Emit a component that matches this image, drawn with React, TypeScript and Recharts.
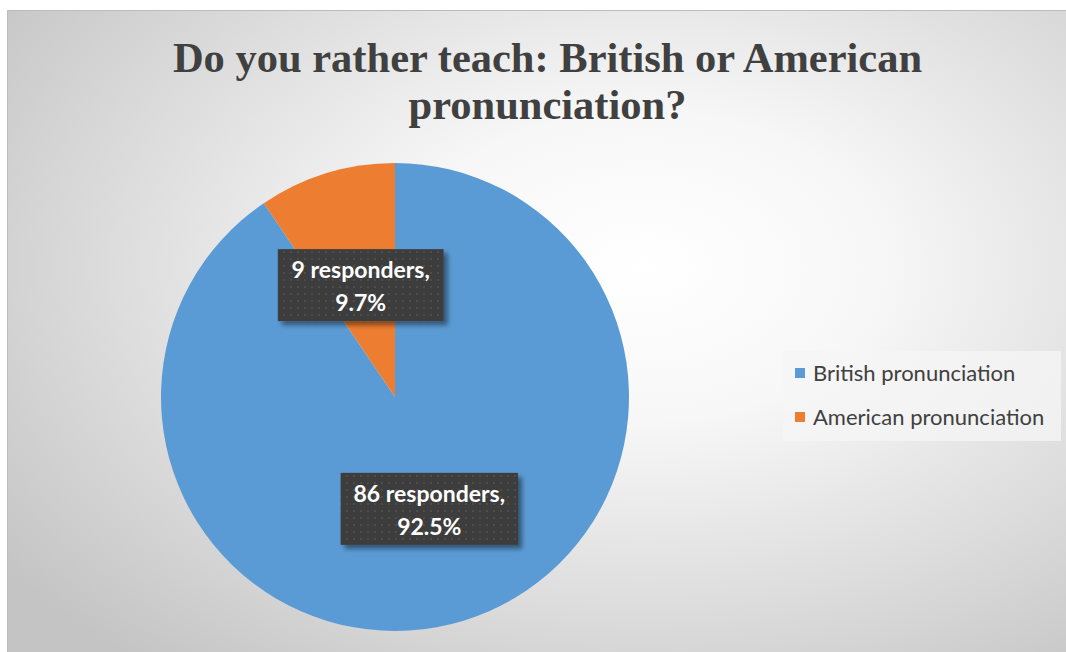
import React from 'react'
import { PieChart, Pie, Cell, Legend } from 'recharts'

// survey answers
const categories = ['British pronunciation', 'American pronunciation']
const responders = [86, 9]
const shownPercent = ['92.5%', '9.7%']
const titleLines = ['Do you rather teach: British or American', 'pronunciation?']

const COLORS = ['#5B9BD5', '#ED7D31']
const W = 1059
const H = 642

const data = categories.map((name, i) => ({
  name,
  value: responders[i],
  pct: shownPercent[i]
}))

const RADIAN = Math.PI / 180

function DataLabel(props: any) {
  const { cx, cy, midAngle, outerRadius, index } = props
  const r = outerRadius * 0.5
  const x = cx + r * Math.cos(-midAngle * RADIAN)
  const y = cy + r * Math.sin(-midAngle * RADIAN)
  const d = data[index]
  const line1 = `${d.value} responders,`
  const w = line1.length * 11.6 + 15
  const h = 72
  return (
    <g>
      <rect
        x={x - w / 2}
        y={y - h / 2}
        width={w}
        height={h}
        fill="url(#dots)"
        filter="url(#lblShadow)"
      />
      <text
        x={x}
        y={y - 16}
        textAnchor="middle"
        dominantBaseline="central"
        fill="#ffffff"
        fontFamily="Lato, 'Open Sans', sans-serif"
        fontWeight="bold"
        fontSize={23}
      >
        {line1}
      </text>
      <text
        x={x}
        y={y + 17}
        textAnchor="middle"
        dominantBaseline="central"
        fill="#ffffff"
        fontFamily="Lato, 'Open Sans', sans-serif"
        fontWeight="bold"
        fontSize={23}
      >
        {d.pct}
      </text>
    </g>
  )
}

function LegendBox() {
  return (
    <div
      style={{
        width: 278,
        height: 90,
        background: 'rgba(245,245,245,0.75)',
        fontFamily: "Lato, 'Open Sans', sans-serif",
        fontSize: 22,
        color: '#404040',
        position: 'relative'
      }}
    >
      {categories.map((c, i) => (
        <div
          key={c}
          style={{
            position: 'absolute',
            left: 12,
            top: 8 + i * 44,
            display: 'flex',
            alignItems: 'center',
            gap: 8,
            whiteSpace: 'nowrap'
          }}
        >
          <div style={{ width: 10, height: 10, background: COLORS[i] }} />
          <span>{c}</span>
        </div>
      ))}
    </div>
  )
}

export default function App() {
  return (
    <div
      style={{
        position: 'absolute',
        left: 7,
        top: 10,
        width: W,
        height: H,
        boxSizing: 'border-box',
        borderTop: '1px solid #bcbcbc',
        borderLeft: '1px solid #bcbcbc',
        background:
          'radial-gradient(ellipse 75% 80% at 60% 40%, #ffffff 0%, #f7f7f7 30%, #dadada 70%, #c4c4c4 100%)'
      }}
    >
      <div
        style={{
          position: 'absolute',
          left: 10,
          top: 0,
          width: W,
          textAlign: 'center',
          fontFamily: "'Liberation Serif', Tinos, 'Nimbus Roman', Times, 'DejaVu Serif', serif",
          fontWeight: 'bold',
          fontSize: 42.5,
          color: '#404040',
          lineHeight: '47px',
          paddingTop: 23
        }}
      >
        {titleLines.map(t => (
          <div key={t}>{t}</div>
        ))}
      </div>
      <PieChart width={W} height={H} style={{ position: 'absolute', left: 0, top: 0 }}>
        <defs>
          <pattern id="dots" width="7" height="7" patternUnits="userSpaceOnUse">
            <rect width="7" height="7" fill="#3d3d3d" />
            <rect x="2" y="2" width="2" height="2" fill="#4d4d4d" />
          </pattern>
          <filter id="lblShadow" x="-20%" y="-20%" width="150%" height="160%">
            <feDropShadow dx="4" dy="4" stdDeviation="2.5" floodColor="#000" floodOpacity="0.45" />
          </filter>
        </defs>
        <Pie
          data={data}
          dataKey="value"
          nameKey="name"
          cx={382}
          cy={381}
          outerRadius={234}
          startAngle={90}
          endAngle={-270}
          stroke="none"
          label={DataLabel}
          labelLine={false}
          isAnimationActive={false}
        >
          {data.map((d, i) => (
            <Cell key={d.name} fill={COLORS[i]} />
          ))}
        </Pie>
        <Legend
          content={() => <LegendBox />}
          wrapperStyle={{ position: 'absolute', left: 775, top: 340, width: 278, height: 90 }}
        />
      </PieChart>
    </div>
  )
}
